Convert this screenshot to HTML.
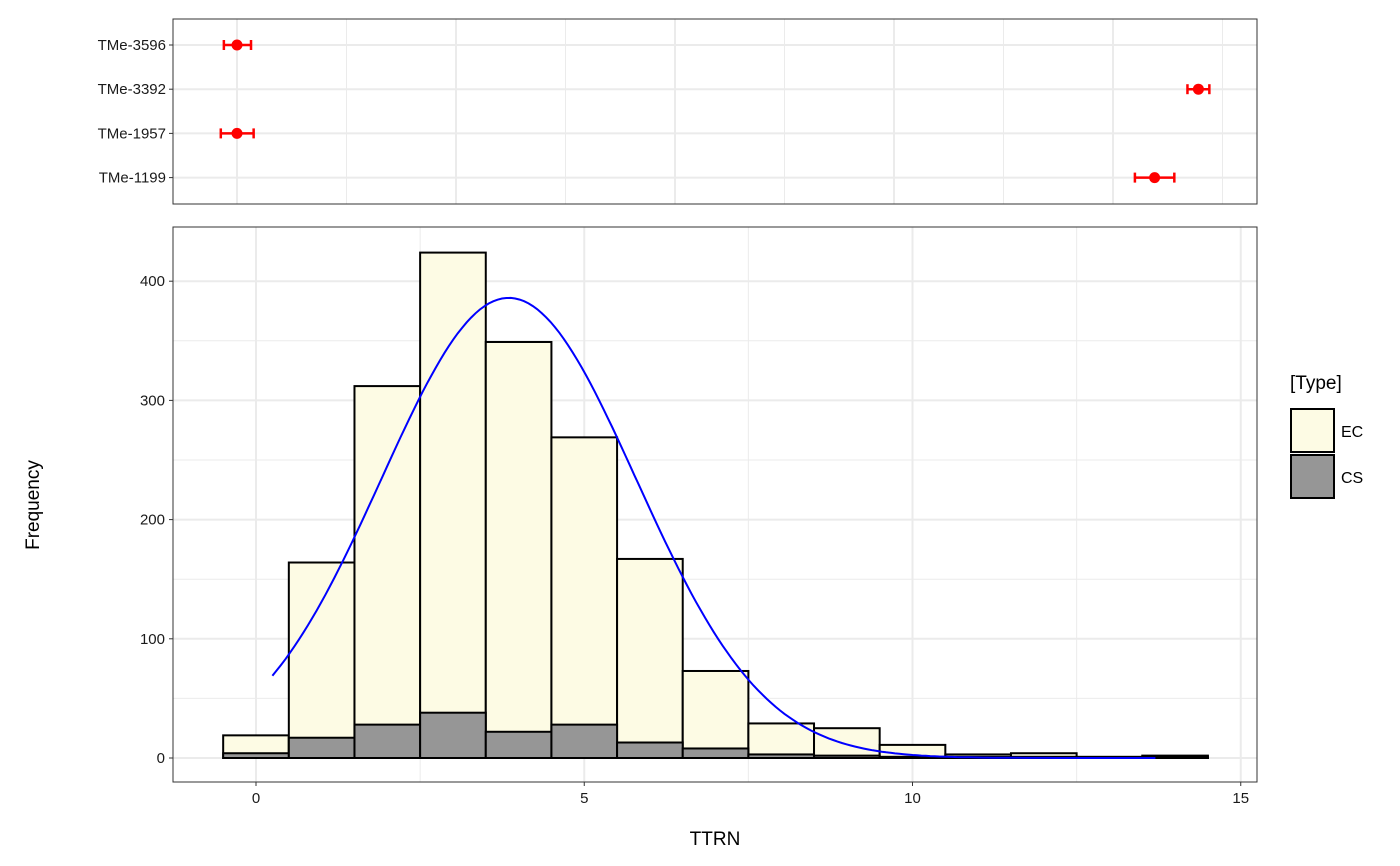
<!DOCTYPE html>
<html><head><meta charset="utf-8"><style>
body{margin:0;background:#fff;}
svg{display:block;font-family:"Liberation Sans",Arial,sans-serif;}
</style></head><body>
<svg id="chart" width="1400" height="866" viewBox="0 0 1400 866"></svg>
<script>
const binCenters=[0,1,2,3,4,5,6,7,8,9,10,11,12,13,14];
const ecCounts=[19,164,312,424,349,269,167,73,29,25,11,3,4,1,2];
const csCounts=[4,17,28,38,22,28,13,8,3,2,1,1,1,0,1];
const xTicks=[0,5,10,15];
const yTicks=[0,100,200,300,400];
const fitParams=[3.85,1.94,386]; // mean, sd, peak
const fitRange=[0.25,13.7];
const genotypes=["TMe-3596","TMe-3392","TMe-1957","TMe-1199"];
const gMeans=[0,21.95,0,20.95];
const gLow=[-0.3,21.7,-0.37,20.5];
const gHigh=[0.32,22.2,0.38,21.4];

const NS="http://www.w3.org/2000/svg";
const svg=document.getElementById('chart');
function mk(tag,attrs,parent){const e=document.createElementNS(NS,tag);for(const k in attrs)e.setAttribute(k,attrs[k]);(parent||svg).appendChild(e);return e;}

const P={l:173,r:1257,t:227,b:782};
const xs=v=>256+v*65.65;
const ys=v=>758-v*1.192;
const T={l:173,r:1257,t:19,b:204};
const txs=v=>237+v*43.8;
const tys=i=>45+i*44.2;

const tg=mk('g',{},svg);

for(let k=0;k<10;k++){const x=237+k*109.5;if(x>T.r)break;
 const l=mk('line',{x1:x,x2:x,y1:T.t,y2:T.b,stroke:'#ebebeb','stroke-width':k%2?1:2},tg);
 }
genotypes.forEach((g,i)=>{const y=tys(i);
 const l=mk('line',{x1:T.l,x2:T.r,y1:y,y2:y,stroke:'#ebebeb','stroke-width':2},tg);
 
 mk('line',{x1:T.l-4,x2:T.l,y1:y,y2:y,stroke:'#333','stroke-width':1},tg);
 const t=mk('text',{x:T.l-7,y:y+5,'text-anchor':'end','font-size':15,fill:'#1a1a1a'},tg);t.textContent=g;
 
 const eb=mk('g',{stroke:'red','stroke-width':2.5},tg);
 
 mk('line',{x1:txs(gLow[i]),x2:txs(gHigh[i]),y1:y,y2:y},eb);
 mk('line',{x1:txs(gLow[i]),x2:txs(gLow[i]),y1:y-5,y2:y+5},eb);
 mk('line',{x1:txs(gHigh[i]),x2:txs(gHigh[i]),y1:y-5,y2:y+5},eb);
 const c=mk('circle',{cx:txs(gMeans[i]),cy:y,r:5.5,fill:'red',stroke:'none'},tg);
 
});
mk('rect',{x:T.l,y:T.t,width:T.r-T.l,height:T.b-T.t,fill:'none',stroke:'#333','stroke-width':1},tg);

const bg=mk('g',{},svg);

[2.5,7.5,12.5].forEach(v=>mk('line',{x1:xs(v),x2:xs(v),y1:P.t,y2:P.b,stroke:'#ebebeb','stroke-width':1},bg));
[50,150,250,350].forEach(v=>mk('line',{x1:P.l,x2:P.r,y1:ys(v),y2:ys(v),stroke:'#ebebeb','stroke-width':1},bg));
xTicks.forEach(v=>{const l=mk('line',{x1:xs(v),x2:xs(v),y1:P.t,y2:P.b,stroke:'#ebebeb','stroke-width':2},bg);
 
 mk('line',{x1:xs(v),x2:xs(v),y1:P.b,y2:P.b+4,stroke:'#333'},bg);
 const t=mk('text',{x:xs(v),y:P.b+21,'text-anchor':'middle','font-size':15,fill:'#1a1a1a'},bg);t.textContent=v;
 });
yTicks.forEach(v=>{const l=mk('line',{x1:P.l,x2:P.r,y1:ys(v),y2:ys(v),stroke:'#ebebeb','stroke-width':2},bg);
 
 mk('line',{x1:P.l-4,x2:P.l,y1:ys(v),y2:ys(v),stroke:'#333'},bg);
 const t=mk('text',{x:P.l-8,y:ys(v)+5,'text-anchor':'end','font-size':15,fill:'#1a1a1a'},bg);t.textContent=v;
 });
binCenters.forEach((c,i)=>{
 const r=mk('rect',{x:xs(c-0.5),y:ys(ecCounts[i]),width:xs(c+0.5)-xs(c-0.5),height:ys(0)-ys(ecCounts[i]),fill:'#fdfbe4',stroke:'#000','stroke-width':2},bg);
 });
binCenters.forEach((c,i)=>{
 const r=mk('rect',{x:xs(c-0.5),y:ys(csCounts[i]),width:xs(c+0.5)-xs(c-0.5),height:ys(0)-ys(csCounts[i]),fill:'#969696',stroke:'#000','stroke-width':2},bg);
 });
let d='';
for(let k=0;k<=200;k++){const x=fitRange[0]+(fitRange[1]-fitRange[0])*k/200;
 const z=(x-fitParams[0])/fitParams[1];const y=fitParams[2]*Math.exp(-z*z/2);
 d+=(k?'L':'M')+xs(x).toFixed(1)+','+ys(y).toFixed(1);}
const fit=mk('path',{d:d,fill:'none',stroke:'#0000ff','stroke-width':2},bg);

mk('rect',{x:P.l,y:P.t,width:P.r-P.l,height:P.b-P.t,fill:'none',stroke:'#333','stroke-width':1},bg);

const xt=mk('text',{x:(P.l+P.r)/2,y:845,'text-anchor':'middle','font-size':19,fill:'#000'});xt.textContent='TTRN';

const yt=mk('text',{x:0,y:0,'text-anchor':'middle','font-size':19,fill:'#000',transform:'translate(39,505) rotate(-90)'});yt.textContent='Frequency';


const lg=mk('g',{},svg);

const lt=mk('text',{x:1290,y:389,'font-size':19,fill:'#000'},lg);lt.textContent='[Type]';

[['EC','#fdfbe4',409],['CS','#969696',455]].forEach(([n,f,y])=>{
 const e=mk('g',{},lg);
 mk('rect',{x:1291,y:y,width:43,height:43,fill:f,stroke:'#000','stroke-width':2},e);
 const t=mk('text',{x:1341,y:y+28,'font-size':16,fill:'#000'},e);t.textContent=n;});
</script>
</body></html>
